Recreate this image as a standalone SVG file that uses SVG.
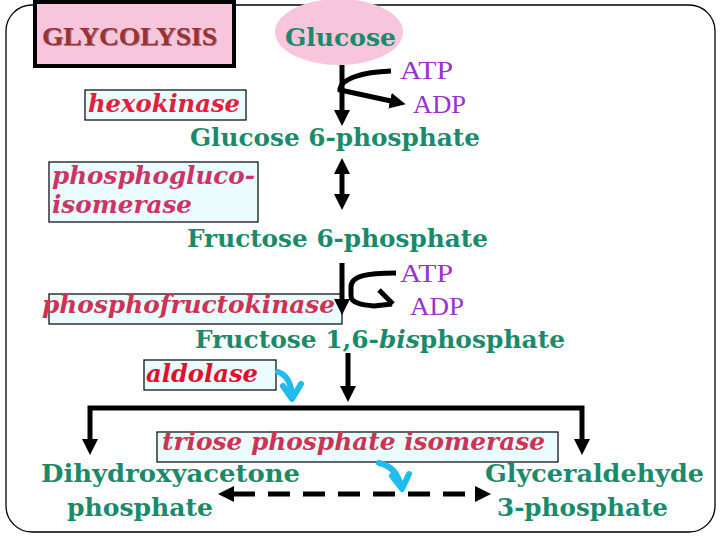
<svg xmlns="http://www.w3.org/2000/svg" width="720" height="540" viewBox="0 0 720 540">
<defs>
<style>
.grn{font-family:"DejaVu Serif","Liberation Serif",serif;font-weight:bold;font-size:24px;fill:#1b8a6b}
.enz{font-family:"DejaVu Serif","Liberation Serif",serif;font-weight:bold;font-style:italic;font-size:25px}
.nuc{font-family:"Liberation Serif","Times New Roman",serif;font-size:26px;fill:#9933cc}
.ebox{fill:#eafcfd;stroke:#000;stroke-width:1.2}
.arr{fill:none;stroke:#000;stroke-width:5}
.cy{fill:none;stroke:#22bbee;stroke-width:6;stroke-linejoin:round;stroke-linecap:round}
</style>
<marker id="ah" markerUnits="userSpaceOnUse" viewBox="0 0 16 16" refX="1" refY="8" markerWidth="16" markerHeight="16" orient="auto-start-reverse">
<path d="M0,0 L16,8 L0,16 z" fill="#000"/>
</marker>
</defs>
<rect x="6" y="5" width="709" height="527" rx="26" ry="26" fill="#fff" stroke="#000" stroke-width="1.3"/>

<g id="title">
<rect x="35" y="2" width="199" height="64" fill="#f8c6dc" stroke="#000" stroke-width="4"/>
<text x="43" y="46" font-family="Liberation Serif,serif" font-weight="bold" font-size="26" fill="#5a1e1e" opacity="0.5" textLength="175" lengthAdjust="spacingAndGlyphs">GLYCOLYSIS</text>
<text x="42" y="45" font-family="Liberation Serif,serif" font-weight="bold" font-size="26" fill="#993333" textLength="175" lengthAdjust="spacingAndGlyphs">GLYCOLYSIS</text>
</g>

<g id="glucose">
<ellipse cx="339" cy="32" rx="64" ry="33" fill="#f8c6dc"/>
<text class="grn" x="285" y="46" font-size="25" textLength="111" lengthAdjust="spacingAndGlyphs">Glucose</text>
</g>

<g id="atp1"><text class="nuc" x="400" y="79" textLength="53" lengthAdjust="spacingAndGlyphs">ATP</text></g>
<g id="adp1"><text class="nuc" x="413" y="113" textLength="53" lengthAdjust="spacingAndGlyphs">ADP</text></g>

<g id="hexokinase">
<rect class="ebox" x="85" y="90" width="161" height="30"/>
<text class="enz" x="88" y="112" fill="#e0203c" textLength="152" lengthAdjust="spacingAndGlyphs">hexokinase</text>
</g>

<g id="g6p"><text class="grn" x="190" y="146" textLength="290" lengthAdjust="spacingAndGlyphs">Glucose 6-phosphate</text></g>

<g id="pgi">
<rect class="ebox" x="49" y="162" width="209" height="60"/>
<text class="enz" x="52" y="184" fill="#cc3366" textLength="203" lengthAdjust="spacingAndGlyphs">phosphogluco-</text>
<text class="enz" x="52" y="213" fill="#cc3366" textLength="140" lengthAdjust="spacingAndGlyphs">isomerase</text>
</g>

<g id="f6p"><text class="grn" x="187" y="247" textLength="301" lengthAdjust="spacingAndGlyphs">Fructose 6-phosphate</text></g>

<g id="atp2"><text class="nuc" x="400" y="282" textLength="53" lengthAdjust="spacingAndGlyphs">ATP</text></g>
<g id="adp2"><text class="nuc" x="410" y="315" textLength="54" lengthAdjust="spacingAndGlyphs">ADP</text></g>

<g id="pfk">
<rect class="ebox" x="49" y="294" width="293" height="30"/>
<text class="enz" x="42" y="313" fill="#cc3355" textLength="293" lengthAdjust="spacingAndGlyphs">phosphofructokinase</text>
</g>

<g id="f16bp"><text class="grn" x="195" y="348" textLength="370" lengthAdjust="spacingAndGlyphs">Fructose 1,6-<tspan font-style="italic">bis</tspan>phosphate</text></g>

<g id="aldolase">
<rect class="ebox" x="144" y="360" width="132" height="30"/>
<text class="enz" x="146" y="382" fill="#e0102e" textLength="112" lengthAdjust="spacingAndGlyphs">aldolase</text>
</g>

<g id="tpi">
<rect class="ebox" x="157" y="432" width="401" height="30"/>
<text class="enz" x="162" y="450" fill="#cc3355" textLength="383" lengthAdjust="spacingAndGlyphs">triose phosphate isomerase</text>
</g>

<g id="dhap">
<text class="grn" x="41" y="482" textLength="259" lengthAdjust="spacingAndGlyphs">Dihydroxyacetone</text>
<text class="grn" x="67" y="516" textLength="146" lengthAdjust="spacingAndGlyphs">phosphate</text>
</g>

<g id="g3p">
<text class="grn" x="485" y="482" textLength="219" lengthAdjust="spacingAndGlyphs">Glyceraldehyde</text>
<text class="grn" x="497" y="516" textLength="171" lengthAdjust="spacingAndGlyphs">3-phosphate</text>
</g>

<g id="connectors">
<line class="arr" x1="342" y1="65" x2="342" y2="111" marker-end="url(#ah)"/>
<path class="arr" d="M391 71 C362 72 340 79 340 90 L391 101" marker-end="url(#ah)"/>
<line class="arr" x1="342" y1="173" x2="342" y2="195" marker-start="url(#ah)" marker-end="url(#ah)"/>
<line class="arr" x1="342" y1="263" x2="342" y2="300" marker-end="url(#ah)"/>
<path class="arr" d="M396 273 C366 273 351 276 351 287 L351 296 C351 303 362 305 374 306 L392 304 M379 290 L393 304" stroke-linejoin="round"/>
<line class="arr" x1="348" y1="353" x2="348" y2="387" marker-end="url(#ah)"/>
<path class="arr" d="M90 440 V408 H582 V440" stroke-width="6" marker-start="url(#ah)" marker-end="url(#ah)"/>
<line class="arr" x1="233" y1="494" x2="476" y2="494" stroke-width="6" stroke-dasharray="22 13" marker-start="url(#ah)" marker-end="url(#ah)"/>
<path class="cy" d="M278 372 Q291 376 292 397 M283 386 L292 399 L301 384"/>
<path class="cy" d="M379 463 Q397 467 401 487 M392 476 L402 489 L409 474"/>
</g>
</svg>
